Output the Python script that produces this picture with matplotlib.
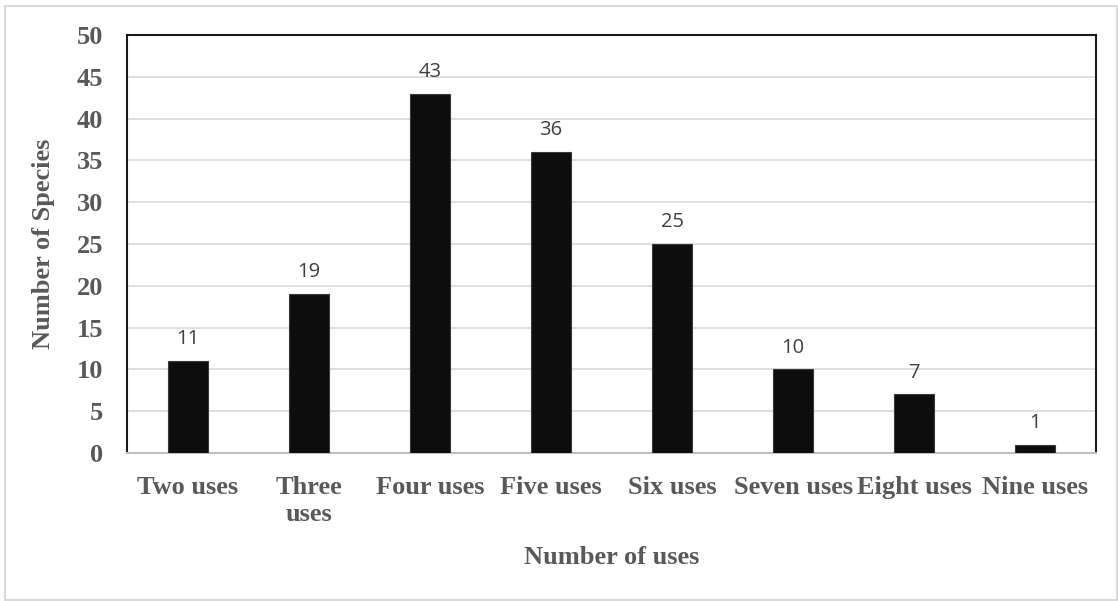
import matplotlib.pyplot as plt
from matplotlib.patches import Rectangle

categories = ['Two uses', 'Three\nuses', 'Four uses', 'Five uses', 'Six uses',
              'Seven uses', 'Eight uses', 'Nine uses']
species = [11, 19, 43, 36, 25, 10, 7, 1]

text_grey = '#595959'
serif = 'Liberation Serif'

fig = plt.figure(figsize=(11.18, 6.01), dpi=100)
ax = fig.add_axes([127 / 1118, 1 - 453 / 601, (1096 - 127) / 1118, (453 - 35) / 601])

x = range(len(categories))
ax.bar(x, species, width=0.33, color='#0d0d0d', edgecolor='#3a3a3a',
       linewidth=0.8, zorder=3)
for i, v in enumerate(species):
    ax.text(i, v + 2.0, str(v), ha='center', va='baseline', fontsize=14.5,
            family='Open Sans', color='#404040')

ax.set_xlim(-0.5, len(categories) - 0.5)
ax.set_ylim(0, 50)
ax.set_yticks(range(0, 51, 5))
ax.yaxis.grid(True, color='#d9d9d9', linewidth=1.2, zorder=0)
ax.set_axisbelow(True)

for side in ['left', 'top', 'right']:
    ax.spines[side].set_color('#1a1a1a')
    ax.spines[side].set_linewidth(1.5)
ax.spines['bottom'].set_color('#bfbfbf')
ax.spines['bottom'].set_linewidth(1.5)

ax.tick_params(axis='x', length=0, pad=16.5)
ax.tick_params(axis='y', length=0, pad=17)
ax.set_xticks(list(x))
ax.set_xticklabels(categories, fontsize=19, fontweight='bold', family=serif,
                   color=text_grey, va='top', linespacing=1.25)
for lab in ax.get_yticklabels():
    lab.set_fontsize(19)
    lab.set_fontweight('bold')
    lab.set_family(serif)
    lab.set_color(text_grey)

ax.set_ylabel('Number of Species', fontsize=19, fontweight='bold', family=serif,
              color=text_grey)
ax.yaxis.set_label_coords(-0.074, 0.5)
ax.set_xlabel('Number of uses', fontsize=19, fontweight='bold', family=serif,
              color=text_grey)
ax.xaxis.set_label_coords(0.5, -0.222)

# light border around the whole chart
fig.patches.append(Rectangle((5 / 1118, 1 / 601), 1 - 6 / 1118, 1 - 7 / 601,
                             transform=fig.transFigure, fill=False,
                             edgecolor='#d9d9d9', linewidth=1.5))

fig.savefig('out.png', dpi=100)
